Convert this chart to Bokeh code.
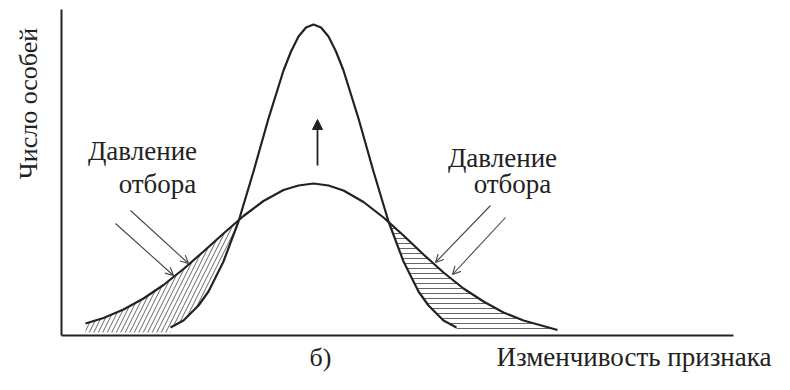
import numpy as np
from bokeh.plotting import figure
from bokeh.models import Range1d, Label, Arrow, OpenHead, NormalHead, FixedTicker
from bokeh.embed import file_html
from bokeh.resources import INLINE

# ---- data (arbitrary units: trait value on x, number of individuals on y) ----
# wide distribution (before stabilising selection)
trait_before = [24, 42, 62, 82, 102, 122, 142, 162, 182, 202, 222, 237, 252,
                267, 282, 302, 322, 342, 362, 382, 402, 422, 442, 462, 480, 496]
count_before = [12, 17.5, 26, 37, 50.5, 66.5, 84, 102, 119.5, 134.5, 145.5, 150, 152,
                150, 145, 133.5, 118, 100, 81, 63, 47, 34, 23, 15, 10, 5.5]
# narrow distribution (after stabilising selection)
trait_after = [109, 122, 137, 147, 162, 177, 192, 207, 222, 229.5, 237, 244.5, 252,
               259.5, 267, 274.5, 282, 297, 312, 327, 342, 357, 367, 382, 395]
count_after = [8, 15, 30, 44, 74, 114, 164, 217, 265, 284, 299, 308, 311,
               308, 299, 284, 265, 217, 164, 114, 74, 44, 30, 15, 8]

axis_x_end = 672
axis_y_end = 326

y_title = "Число особей"
x_title = "Изменчивость признака"
pressure = ["Давление", "отбора"]
panel = "б)"

INK = "#222222"
FONT = "Liberation Serif"

p = figure(width=774, height=374, output_backend="svg", toolbar_location=None,
           x_range=Range1d(-61, 713), y_range=Range1d(-39, 335),
           min_border=0, min_border_left=0, min_border_right=0,
           min_border_top=0, min_border_bottom=0)
p.outline_line_color = None
p.xgrid.visible = False
p.ygrid.visible = False
p.background_fill_color = "white"
p.border_fill_color = "white"
for ax in (p.xaxis, p.yaxis):
    ax.ticker = FixedTicker(ticks=[])
    ax.major_tick_line_color = None
    ax.minor_tick_line_color = None
    ax.major_tick_out = 0
    ax.major_tick_in = 0
    ax.minor_tick_out = 0
    ax.major_label_standoff = 0
    ax.axis_label_standoff = 0
    ax.major_label_text_font_size = "0px"
    ax.axis_line_width = 2
    ax.axis_line_color = INK
    ax.fixed_location = 0
p.xaxis.bounds = (0, axis_x_end)
p.yaxis.bounds = (0, axis_y_end)

# hatched regions removed by selection (between the two curves, on the tails)
xs = np.linspace(min(trait_before), max(trait_before), 2000)
upper = np.interp(xs, trait_before, count_before)
tall = np.interp(xs, trait_after, count_after, left=0, right=0)
lower = np.maximum(tall, 3)
mask = upper > lower
centre = trait_after[int(np.argmax(count_after))]
lm = mask & (xs < centre)
rm = mask & (xs > centre)
p.varea(x=xs[lm], y1=lower[lm], y2=upper[lm], fill_color=None,
        hatch_pattern="/", hatch_scale=9, hatch_weight=0.9, hatch_color="#555555")
p.varea(x=xs[rm], y1=lower[rm], y2=upper[rm], fill_color=None,
        hatch_pattern="-", hatch_scale=5, hatch_weight=0.9, hatch_color="#555555")

p.line(trait_before, count_before, line_color=INK, line_width=2.2)
p.line(trait_after, count_after, line_color=INK, line_width=2.2)

# arrows
def arrow(x0, y0, x1, y1):
    p.add_layout(Arrow(x_start=x0, y_start=y0, x_end=x1, y_end=y1,
                       line_color="#444444", line_width=1.1,
                       end=OpenHead(size=8, line_color="#444444", line_width=1.1)))

arrow(54, 112, 112, 60)
arrow(69, 125, 127, 72)
arrow(429, 130, 374, 73)
arrow(444, 118, 391, 61)
p.add_layout(Arrow(x_start=256, y_start=170, x_end=256, y_end=216,
                   line_color=INK, line_width=1.8,
                   end=NormalHead(size=10, fill_color=INK, line_color=INK)))

def label(x, y, text, align="center", angle=0.0, size="27px"):
    p.add_layout(Label(x=x, y=y, text=text, text_align=align, text_baseline="middle",
                       angle=angle, text_font=FONT, text_font_size=size,
                       text_color=INK))

label(81, 185, pressure[0])
label(96, 152, pressure[1])
label(441, 178, pressure[0])
label(451, 152, pressure[1])
label(710, -21, x_title, align="right")
label(259, -22, panel, size="26px")
label(-33, 232, y_title, angle=np.pi / 2, size="26px")

open("out.html", "w").write(file_html(p, INLINE))
